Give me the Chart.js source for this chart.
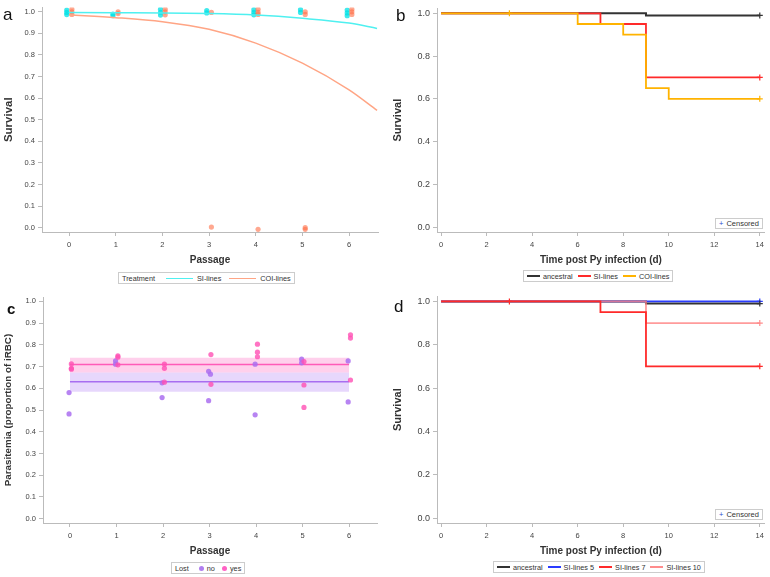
<!DOCTYPE html>
<html>
<head>
<meta charset="utf-8">
<script src="https://cdn.jsdelivr.net/npm/chart.js@4.4.0/dist/chart.umd.min.js"></script>
<style>
  body { margin: 0; width: 770px; height: 577px; background: #fff; position: relative; overflow: hidden; font-family: "Liberation Sans", Arial, sans-serif; }
  .panel { position: absolute; }
  .lbl { position: absolute; font-size: 17px; color: #111; line-height: 1; }
  .legend { position: absolute; border: 1px solid #ccc; font-size: 7.3px; color: #333; display: flex; align-items: center; height: 12px; padding: 0 3px; white-space: nowrap; background: #fff; box-sizing: border-box; }
  .legend > * { flex-shrink: 0; }
  .legend .ln { display: inline-block; width: 13px; height: 0; border-top: 2px solid; margin: 0 3px 0 5px; }
  .legend .ln.long { width: 27px; height: 0; border-top-width: 1.5px; margin: 0 4px 0 8px; }
  .legend .dot { display: inline-block; width: 5px; height: 5px; border-radius: 50%; margin: 0 3px 0 10px; }
  .cens { position: absolute; border: 1px solid #ccc; font-size: 7.5px; color: #333; height: 11px; line-height: 10px; padding: 0 3px; box-sizing: border-box; background: #fff; white-space: nowrap; }
  .cens b { color: #2a4bd0; font-weight: normal; margin-right: 3px; }
</style>
</head>
<body>
<canvas id="chartA" class="panel" style="left:0;top:0"></canvas>
<canvas id="chartB" class="panel" style="left:385px;top:0"></canvas>
<canvas id="chartC" class="panel" style="left:0;top:288px"></canvas>
<canvas id="chartD" class="panel" style="left:385px;top:288px"></canvas>

<div class="lbl" style="left:3px;top:6px">a</div>
<div class="lbl" style="left:396px;top:7px">b</div>
<div class="lbl" style="left:7px;top:301px;font-weight:bold;font-size:15px">c</div>
<div class="lbl" style="left:394px;top:298px">d</div>

<div class="legend" style="left:118px;top:272px">Treatment<i class="ln long" style="border-color:#4ff0f0;margin-left:11px"></i>SI-lines<i class="ln long" style="border-color:#ffa585"></i>COI-lines</div>
<div class="legend" style="left:523px;top:270px"><i class="ln" style="border-color:#333;margin-left:0"></i>ancestral<i class="ln" style="border-color:#ff2a2a"></i>SI-lines<i class="ln" style="border-color:#ffb300"></i>COI-lines</div>
<div class="legend" style="left:171px;top:562px">Lost<i class="dot" style="background:#b07ef0"></i>no<i class="dot" style="background:#ff62c4;margin-left:7px"></i>yes</div>
<div class="legend" style="left:493px;top:561px"><i class="ln" style="border-color:#333;margin-left:0"></i>ancestral<i class="ln" style="border-color:#2a3cff"></i>SI-lines 5<i class="ln" style="border-color:#ff2a2a"></i>SI-lines 7<i class="ln" style="border-color:#ff8c8c"></i>SI-lines 10</div>

<div class="cens" style="left:715px;top:218px"><b>+</b>Censored</div>
<div class="cens" style="left:715px;top:509px"><b>+</b>Censored</div>

<script>
const F = "'Liberation Sans', Arial, sans-serif";

// ---- panel a: survival per passage ----
const passageTicks = [0, 1, 2, 3, 4, 5, 6];
const survTicksA = [0, 0.1, 0.2, 0.3, 0.4, 0.5, 0.6, 0.7, 0.8, 0.9, 1.0];
const fitPassage = [0, 1, 2, 3, 4, 5, 6, 6.6];
const siFit = [0.997, 0.996, 0.995, 0.992, 0.985, 0.970, 0.948, 0.923];
const coiFit = [0.986, 0.973, 0.954, 0.919, 0.855, 0.762, 0.638, 0.543];
const siPassX = [-0.05, -0.05, -0.05, 0.94, 0.94, 1.96, 1.96, 1.96, 2.95, 2.95, 3.96, 3.96, 3.96, 4.96, 4.96, 5.96, 5.96, 5.96];
const siSurv = [1.008, 0.997, 0.987, 0.99, 0.982, 1.012, 0.998, 0.985, 1.006, 0.995, 1.01, 0.997, 0.986, 1.01, 0.997, 1.008, 0.995, 0.982];
const coiPassX = [0.06, 0.06, 0.06, 1.05, 1.05, 2.06, 2.06, 2.06, 3.05, 3.05, 4.05, 4.05, 4.05, 4.05, 5.06, 5.06, 5.06, 5.06, 6.06, 6.06, 6.06];
const coiSurv = [1.012, 1.0, 0.988, 1.0, 0.992, 1.012, 1.0, 0.986, 0.997, 0.003, 1.012, 0.998, 0.988, -0.008, 1.0, 0.988, 0.0, -0.008, 1.012, 1.0, 0.988];

// ---- panel b: Kaplan-Meier by treatment ----
const dayTicks = [0, 2, 4, 6, 8, 10, 12, 14];
const survTicksKM = [0, 0.2, 0.4, 0.6, 0.8, 1.0];
const ancTime = [0, 9, 14];
const ancSurv = [1, 0.99, 0.99];
const siTime = [0, 7, 9, 14];
const siSurvKM = [1, 0.95, 0.70, 0.70];
const coiTime = [0, 6, 8, 9, 10, 14];
const coiSurvKM = [1, 0.95, 0.90, 0.65, 0.60, 0.60];

// ---- panel c: parasitemia per passage ----
const noPassX = [-0.02, -0.02, 0.98, 0.98, 1.98, 1.98, 2.98, 2.98, 3.02, 3.98, 3.98, 4.98, 4.98, 5.98, 5.98];
const noPara = [0.580, 0.482, 0.726, 0.711, 0.625, 0.557, 0.678, 0.543, 0.665, 0.711, 0.478, 0.734, 0.717, 0.726, 0.537];
const yesPassX = [0.03, 0.03, 0.03, 1.03, 1.03, 1.03, 2.03, 2.03, 2.03, 3.03, 3.03, 4.03, 4.03, 4.03, 5.03, 5.03, 5.03, 6.03, 6.03, 6.03];
const yesPara = [0.712, 0.692, 0.688, 0.749, 0.743, 0.708, 0.711, 0.692, 0.628, 0.755, 0.618, 0.803, 0.766, 0.745, 0.723, 0.615, 0.512, 0.846, 0.831, 0.638];
const fitRange = [0, 6];
const noMean = 0.630, noLow = 0.584, noHigh = 0.672;
const yesMean = 0.709, yesLow = 0.672, yesHigh = 0.741;

// ---- panel d: Kaplan-Meier by SI line ----
const si5Time = [0, 14];
const si5Surv = [1, 1];
const si7Time = [0, 7, 9, 14];
const si7Surv = [1, 0.95, 0.70, 0.70];
const si10Time = [0, 9, 14];
const si10Surv = [1, 0.90, 0.90];

const pts = (xs, ys) => xs.map((x, i) => ({ x: x, y: ys[i] }));
const flat = (xs, v) => xs.map(x => ({ x: x, y: v }));

function scales(o) {
  return {
    x: {
      type: "linear", min: o.xmin, max: o.xmax,
      afterBuildTicks: s => { s.ticks = o.xticks.map(v => ({ value: v })); },
      afterFit: s => { s.height = o.xh; },
      border: { color: "#bbb" },
      grid: { drawOnChartArea: false, color: "#bbb", tickLength: 4 },
      ticks: { font: { family: F, size: 7.5 }, color: "#444", padding: 4, maxRotation: 0, autoSkip: false },
      title: { display: true, text: o.xtitle, color: "#333", font: { family: F, size: 10, weight: "bold" }, padding: { top: 4, bottom: 4 } }
    },
    y: {
      type: "linear", min: o.ymin, max: o.ymax,
      afterBuildTicks: s => { s.ticks = o.yticks.map(v => ({ value: v })); },
      afterFit: s => { s.width = o.yw; },
      border: { color: "#bbb" },
      grid: { drawOnChartArea: false, color: "#bbb", tickLength: 4 },
      ticks: { font: { family: F, size: o.ytsize }, color: "#444", padding: 3, autoSkip: false, callback: v => v.toFixed(1) },
      title: { display: true, text: o.ytitle, color: "#333", font: { family: F, size: o.yttsize, weight: "bold" }, padding: { top: o.ytpad, bottom: 2 } }
    }
  };
}

function baseOptions(o, pad) {
  return {
    responsive: false, animation: false,
    layout: { padding: pad },
    plugins: { legend: { display: false }, tooltip: { enabled: false } },
    scales: scales(o)
  };
}

function makeCanvas(id, w, h) {
  const c = document.getElementById(id);
  c.width = w; c.height = h;
  c.style.width = w + "px"; c.style.height = h + "px";
  return c;
}

const dot = (c) => ({ type: "scatter", showLine: false, pointRadius: 2.6, pointBorderWidth: 0, backgroundColor: c });
const kmLine = (c, w) => ({ type: "line", stepped: true, borderColor: c, borderWidth: w, pointRadius: 0, fill: false });
const cens = (c) => ({ type: "scatter", showLine: false, pointStyle: "cross", pointRadius: 3, borderColor: c, borderWidth: 1.2 });

// panel a
new Chart(makeCanvas("chartA", 385, 270), {
  type: "scatter",
  data: {
    datasets: [
      { ...dot("rgba(0,225,230,0.75)"), data: pts(siPassX, siSurv), order: 3 },
      { ...dot("rgba(255,110,70,0.6)"), data: pts(coiPassX, coiSurv), order: 2 },
      { type: "line", data: pts(fitPassage, siFit), borderColor: "#4ff0f0", borderWidth: 1.5, pointRadius: 0, cubicInterpolationMode: "monotone", order: 1 },
      { type: "line", data: pts(fitPassage, coiFit), borderColor: "#ffa585", borderWidth: 1.5, pointRadius: 0, cubicInterpolationMode: "monotone", order: 1 }
    ]
  },
  options: baseOptions({ xmin: -0.58, xmax: 6.62, xticks: passageTicks, xh: 38, xtitle: "Passage",
    ymin: -0.02, ymax: 1.02, yticks: survTicksA, yw: 42, ytitle: "Survival", ytsize: 7.5, yttsize: 11.5, ytpad: 2 },
    { left: 0, right: 7, top: 5, bottom: 0 })
});

// panel b
new Chart(makeCanvas("chartB", 385, 270), {
  type: "line",
  data: {
    datasets: [
      { ...cens("#333"), data: [{ x: 14, y: ancSurv[2] }], order: 1 },
      { ...cens("#ff2a2a"), data: [{ x: 14, y: siSurvKM[3] }], order: 1 },
      { ...cens("#ffb300"), data: [{ x: 3, y: 1 }, { x: 14, y: coiSurvKM[5] }], order: 1 },
      { ...kmLine("#ffb300", 1.8), data: pts(coiTime, coiSurvKM), order: 2 },
      { ...kmLine("#ff2a2a", 1.8), data: pts(siTime, siSurvKM), order: 3 },
      { ...kmLine("#333", 2), data: pts(ancTime, ancSurv), order: 4 }
    ]
  },
  options: baseOptions({ xmin: -0.18, xmax: 14.22, xticks: dayTicks, xh: 38, xtitle: "Time post Py infection (d)",
    ymin: -0.023, ymax: 1.023, yticks: survTicksKM, yw: 52, ytitle: "Survival", ytsize: 9, yttsize: 11, ytpad: 6 },
    { left: 0, right: 5, top: 5, bottom: 0 })
});

// panel c
new Chart(makeCanvas("chartC", 385, 273), {
  type: "scatter",
  data: {
    datasets: [
      { type: "line", data: flat(fitRange, noLow), borderWidth: 0, pointRadius: 0, fill: false, order: 6 },
      { type: "line", data: flat(fitRange, noHigh), borderWidth: 0, pointRadius: 0, fill: "-1", backgroundColor: "rgba(185,140,245,0.35)", order: 6 },
      { type: "line", data: flat(fitRange, yesLow), borderWidth: 0, pointRadius: 0, fill: false, order: 5 },
      { type: "line", data: flat(fitRange, yesHigh), borderWidth: 0, pointRadius: 0, fill: "-1", backgroundColor: "rgba(255,120,200,0.35)", order: 5 },
      { type: "line", data: flat(fitRange, noMean), borderColor: "#a86ef0", borderWidth: 1.5, pointRadius: 0, order: 4 },
      { type: "line", data: flat(fitRange, yesMean), borderColor: "#ff5ab8", borderWidth: 1.5, pointRadius: 0, order: 3 },
      { ...dot("rgba(170,110,240,0.85)"), data: pts(noPassX, noPara), order: 2 },
      { ...dot("rgba(255,80,180,0.8)"), data: pts(yesPassX, yesPara), order: 1 }
    ]
  },
  options: baseOptions({ xmin: -0.58, xmax: 6.6, xticks: passageTicks, xh: 38, xtitle: "Passage",
    ymin: -0.02, ymax: 1.02, yticks: survTicksA, yw: 43, ytitle: "Parasitemia (proportion of iRBC)", ytsize: 7.5, yttsize: 9.8, ytpad: 2 },
    { left: 0, right: 8, top: 9, bottom: 0 })
});

// panel d
new Chart(makeCanvas("chartD", 385, 273), {
  type: "line",
  data: {
    datasets: [
      { ...cens("#333"), data: [{ x: 14, y: ancSurv[2] }], order: 1 },
      { ...cens("#2a3cff"), data: [{ x: 14, y: si5Surv[1] }], order: 1 },
      { ...cens("#ff2a2a"), data: [{ x: 3, y: 1 }, { x: 14, y: si7Surv[3] }], order: 1 },
      { ...cens("#ff8c8c"), data: [{ x: 14, y: si10Surv[2] }], order: 1 },
      { ...kmLine("#ff2a2a", 1.8), data: pts(si7Time, si7Surv), order: 2 },
      { ...kmLine("rgba(255,130,130,0.8)", 1.8), data: pts(si10Time, si10Surv), order: 3 },
      { ...kmLine("#2a3cff", 1.8), data: pts(si5Time, si5Surv), order: 4 },
      { ...kmLine("#333", 2), data: pts(ancTime, ancSurv), order: 5 }
    ]
  },
  options: baseOptions({ xmin: -0.18, xmax: 14.22, xticks: dayTicks, xh: 38, xtitle: "Time post Py infection (d)",
    ymin: -0.023, ymax: 1.023, yticks: survTicksKM, yw: 52, ytitle: "Survival", ytsize: 9, yttsize: 11, ytpad: 6 },
    { left: 0, right: 5, top: 8, bottom: 0 })
});
</script>
</body>
</html>
